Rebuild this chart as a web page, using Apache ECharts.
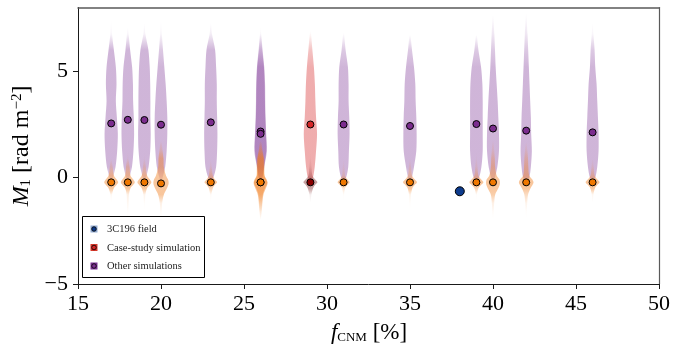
<!DOCTYPE html>
<html>
<head>
<meta charset="utf-8">
<script src="https://cdn.jsdelivr.net/npm/echarts@6/dist/echarts.min.js"></script>
<style>
  html, body { margin: 0; padding: 0; background: #fff; }
  #chart { width: 673px; height: 345px; }
</style>
</head>
<body>
<div id="chart"></div>
<script>
// Simulations: cold-gas fraction f_CNM (%) and median M1 of the two components
const otherX      = [17, 18, 19, 20, 23, 26, 26, 31, 35, 39, 40, 42, 46];
const otherHighM1 = [2.55, 2.72, 2.71, 2.49, 2.60, 2.17, 2.06, 2.50, 2.43, 2.52, 2.31, 2.21, 2.13];
const otherLowM1  = [-0.22, -0.22, -0.22, -0.27, -0.22, -0.22, -0.22, -0.22, -0.22, -0.22, -0.22, -0.22, -0.22];
const caseX      = [29];
const caseHighM1 = [2.50];
const caseLowM1  = [-0.22];
const fieldX  = [38];
const fieldM1 = [-0.64];

// Violin half-widths (in f_CNM units) sampled at fixed M1 levels
const highLevels = [-0.2, 0.0, 0.5, 1.25, 2.05, 2.85, 3.6, 4.4, 5.2, 6.0, 6.75];
const otherHighTop = [7.45, 7.1, 7.3, 7.4, 7.3, 7.1, 6.9, 6.85, 6.7, 6.7, 7.7, 7.75, 7.3];
const otherHighWidth = [
  [0, 0.10, 0.26, 0.36, 0.40, 0.34, 0.28, 0.32, 0.28, 0.16, 0.05],
  [0, 0.10, 0.25, 0.34, 0.38, 0.36, 0.32, 0.31, 0.26, 0.14, 0.05],
  [0, 0.10, 0.25, 0.35, 0.38, 0.36, 0.36, 0.35, 0.32, 0.24, 0.06],
  [0, 0.10, 0.25, 0.34, 0.38, 0.38, 0.34, 0.28, 0.20, 0.12, 0.05],
  [0, 0.15, 0.32, 0.38, 0.40, 0.38, 0.36, 0.36, 0.32, 0.26, 0.07],
  [0, 0.12, 0.22, 0.38, 0.34, 0.30, 0.28, 0.27, 0.22, 0.12, 0.04],
  [0, 0.10, 0.20, 0.34, 0.32, 0.28, 0.26, 0.24, 0.20, 0.10, 0.03],
  [0, 0.15, 0.28, 0.32, 0.36, 0.34, 0.30, 0.30, 0.26, 0.12, 0.03],
  [0, 0.12, 0.24, 0.38, 0.40, 0.38, 0.34, 0.32, 0.24, 0.12, 0.02],
  [0, 0.16, 0.30, 0.38, 0.38, 0.38, 0.38, 0.36, 0.28, 0.12, 0.02],
  [0, 0.12, 0.26, 0.36, 0.36, 0.32, 0.28, 0.22, 0.16, 0.12, 0.08],
  [0, 0.18, 0.28, 0.34, 0.30, 0.28, 0.24, 0.20, 0.16, 0.12, 0.08],
  [0, 0.16, 0.28, 0.36, 0.36, 0.32, 0.28, 0.24, 0.16, 0.12, 0.05]
];
const caseHighTop = [6.9];
const caseHighWidth = [
  [0, 0.15, 0.26, 0.34, 0.40, 0.34, 0.30, 0.27, 0.21, 0.12, 0.04]
];

const lowLevels = [-2.0, -1.6, -1.2, -0.8, -0.5, -0.35, -0.22, -0.08, 0.1, 0.5, 0.9, 1.3, 1.7];
const otherLowWidth = [
  [0, 0,    0,    0.05, 0.16, 0.32, 0.42, 0.32, 0.16, 0.09, 0,    0,    0],
  [0, 0.03, 0.05, 0.07, 0.16, 0.32, 0.42, 0.32, 0.16, 0.11, 0.04, 0,    0],
  [0, 0,    0.03, 0.06, 0.16, 0.32, 0.42, 0.32, 0.16, 0.09, 0.03, 0,    0],
  [0, 0.04, 0.07, 0.17, 0.36, 0.44, 0.46, 0.42, 0.30, 0.17, 0.15, 0.09, 0.03],
  [0, 0,    0,    0.04, 0.12, 0.24, 0.38, 0.24, 0.12, 0.06, 0,    0,    0],
  [0, 0.07, 0.11, 0.17, 0.32, 0.40, 0.42, 0.36, 0.24, 0.23, 0.21, 0.11, 0.04],
  [0, 0.05, 0.09, 0.13, 0.26, 0.36, 0.40, 0.32, 0.22, 0.19, 0.17, 0.09, 0.03],
  [0, 0,    0,    0.03, 0.09, 0.22, 0.36, 0.22, 0.09, 0.05, 0,    0,    0],
  [0, 0,    0.03, 0.06, 0.14, 0.28, 0.42, 0.28, 0.12, 0.07, 0,    0,    0],
  [0, 0,    0,    0.03, 0.12, 0.28, 0.42, 0.28, 0.12, 0.07, 0.03, 0,    0],
  [0, 0.04, 0.07, 0.13, 0.32, 0.40, 0.42, 0.38, 0.22, 0.13, 0.11, 0.07, 0.03],
  [0, 0.03, 0.06, 0.11, 0.26, 0.38, 0.44, 0.36, 0.18, 0.13, 0.11, 0.07, 0],
  [0, 0,    0,    0.05, 0.14, 0.28, 0.42, 0.28, 0.12, 0.07, 0,    0,    0]
];
const caseLowWidth = [
  [0, 0, 0, 0.06, 0.16, 0.28, 0.42, 0.28, 0.12, 0.07, 0.03, 0, 0]
];

const yTickValues = [-5, 0, 5];
const legendLabels = ['3C196 field', 'Case-study simulation', 'Other simulations'];

// Builds a renderItem that draws one violin per data item as a smoothed polygon,
// fading out where the violin gets thin.
function violinRenderer(levels, widths, tops, rgb, alpha) {
  return function (params, api) {
    const i = params.dataIndex;
    const x = api.value(0);
    const lv = levels.slice();
    const ws = widths[i].slice();
    if (tops) { lv.push(tops[i]); ws.push(0); }
    // trim zero-width ends so the outline starts/ends at a single tip
    let a = 0, b = lv.length - 1;
    while (a < b - 1 && ws[a + 1] === 0) a++;
    while (b > a + 1 && ws[b - 1] === 0) b--;
    const right = [], left = [];
    for (let k = a; k <= b; k++) {
      const w = ws[k];
      right.push(api.coord([x + w, lv[k]]));
      if (w > 0) left.push(api.coord([x - w, lv[k]]));
    }
    const pts = right.concat(left.reverse());
    const yTop = api.coord([x, lv[b]])[1];
    const yBot = api.coord([x, lv[a]])[1];
    const stops = [];
    for (let k = b; k >= a; k--) {
      const py = api.coord([x, lv[k]])[1];
      const f = Math.pow(Math.min(1, ws[k] / 0.14), 2);
      stops.push({
        offset: Math.max(0, Math.min(1, (py - yTop) / (yBot - yTop))),
        color: 'rgba(' + rgb + ',' + (alpha * f).toFixed(3) + ')'
      });
    }
    return {
      type: 'polygon',
      shape: { points: pts, smooth: 0.3 },
      style: { fill: new echarts.graphic.LinearGradient(0, yTop, 0, yBot, stops, true) },
      silent: true
    };
  };
}

function pairs(xs, ys) { return xs.map(function (x, i) { return [x, ys[i]]; }); }

const serif = '"Liberation Serif", "DejaVu Serif", serif';
const spine = '#1a1a1a';
const spineFar = '#5a5a5a';

const chart = echarts.init(document.getElementById('chart'), null, { renderer: 'canvas' });

// Legend box and axis titles
const legendRows = [
  { cy: 229,   box: '#95add3', dot: '#0d3b8c' },
  { cy: 247.5, box: '#d8392b', dot: '#d62728' },
  { cy: 266,   box: '#7b3294', dot: '#7b2d8e' }
];
const overlay = [{
  type: 'rect', z: 100,
  shape: { x: 82.5, y: 216.5, width: 122, height: 61 },
  style: { fill: '#fff', stroke: '#000', lineWidth: 1 }
}];
legendRows.forEach(function (r, i) {
  overlay.push({
    type: 'rect', z: 101,
    shape: { x: 90.5, y: r.cy - 3.5, width: 7, height: 7 },
    style: { fill: r.box }
  });
  overlay.push({
    type: 'circle', z: 102,
    shape: { cx: 94, cy: r.cy, r: 2.3 },
    style: { fill: r.dot, stroke: '#000', lineWidth: 0.8 }
  });
  overlay.push({
    type: 'text', z: 102,
    x: 107, y: r.cy + 0.5,
    style: { text: legendLabels[i], font: '10.5px ' + serif, fill: '#222', verticalAlign: 'middle' }
  });
});
overlay.push({
  type: 'text', z: 50, x: 369, y: 333,
  style: {
    text: '{i|f}{sub|CNM}{n| [%]}',
    align: 'center', verticalAlign: 'middle',
    rich: {
      i: { font: 'italic 23px ' + serif, fill: '#000' },
      sub: { font: '13px ' + serif, fill: '#000', padding: [9, 0, 0, 0] },
      n: { font: '23px ' + serif, fill: '#000' }
    }
  }
});
overlay.push({
  type: 'text', z: 50, x: 22, y: 146, rotation: Math.PI / 2,
  style: {
    text: '{i|M}{sub|1}{n| [rad m}{sup|−2}{n|]}',
    align: 'center', verticalAlign: 'middle',
    rich: {
      i: { font: 'italic 24px ' + serif, fill: '#000' },
      sub: { font: '15px ' + serif, fill: '#000', padding: [9, 0, 0, 0] },
      sup: { font: '15px ' + serif, fill: '#000', padding: [0, 0, 9, 0] },
      n: { font: '24px ' + serif, fill: '#000' }
    }
  }
});

chart.setOption({
  animation: false,
  backgroundColor: '#fff',
  grid: { left: 78, right: 12.5, top: 7.5, bottom: 61, show: false },
  xAxis: [{
    type: 'value', min: 15, max: 50, interval: 5,
    axisLine: { onZero: false, lineStyle: { color: spine, width: 1 } },
    axisTick: { inside: false, length: 5, lineStyle: { color: spine } },
    axisLabel: { fontFamily: serif, fontSize: 22, color: '#000', margin: 9 },
    splitLine: { show: false }
  }, {
    // top spine
    type: 'value', min: 15, max: 50, position: 'top',
    axisLine: { show: true, onZero: false, lineStyle: { color: spineFar, width: 1.5 } },
    axisTick: { show: false }, axisLabel: { show: false }, splitLine: { show: false }
  }],
  yAxis: [{
    type: 'value', min: -5, max: 8, interval: 5,
    axisLine: { show: true, onZero: false, lineStyle: { color: spine, width: 1 } },
    axisTick: { show: true, length: 5, customValues: yTickValues, lineStyle: { color: spine } },
    axisLabel: {
      fontFamily: serif, fontSize: 22, color: '#000', margin: 10,
      customValues: yTickValues,
      formatter: function (v) { return String(v).replace('-', '\u2212'); }
    },
    splitLine: { show: false }
  }, {
    // right spine
    type: 'value', min: -5, max: 8, position: 'right',
    axisLine: { show: true, onZero: false, lineStyle: { color: spineFar, width: 1.2 } },
    axisTick: { show: false }, axisLabel: { show: false }, splitLine: { show: false }
  }],
  graphic: overlay,
  series: [
    {
      type: 'custom', name: 'other-high', z: 2,
      data: pairs(otherX, otherHighM1),
      encode: { x: 0, y: 1 },
      renderItem: violinRenderer(highLevels, otherHighWidth, otherHighTop, '123,50,148', 0.36)
    },
    {
      type: 'custom', name: 'case-high', z: 2,
      data: pairs(caseX, caseHighM1),
      encode: { x: 0, y: 1 },
      renderItem: violinRenderer(highLevels, caseHighWidth, caseHighTop, '214,39,40', 0.38)
    },
    {
      type: 'custom', name: 'other-low', z: 3,
      data: pairs(otherX, otherLowM1),
      encode: { x: 0, y: 1 },
      renderItem: violinRenderer(lowLevels, otherLowWidth, null, '240,120,20', 0.42)
    },
    {
      type: 'custom', name: 'case-low', z: 3,
      data: pairs(caseX, caseLowM1),
      encode: { x: 0, y: 1 },
      renderItem: violinRenderer(lowLevels, caseLowWidth, null, '110,10,10', 0.38)
    },
    {
      type: 'scatter', z: 5, symbolSize: 7,
      data: pairs(otherX, otherHighM1),
      itemStyle: { color: '#7b2d8e', borderColor: '#000', borderWidth: 1, opacity: 1 }
    },
    {
      type: 'scatter', z: 5, symbolSize: 7,
      data: pairs(otherX, otherLowM1),
      itemStyle: { color: '#f07800', borderColor: '#000', borderWidth: 1, opacity: 1 }
    },
    {
      type: 'scatter', z: 5, symbolSize: 7,
      data: pairs(caseX, caseHighM1),
      itemStyle: { color: '#d62728', borderColor: '#000', borderWidth: 1, opacity: 1 }
    },
    {
      type: 'scatter', z: 5, symbolSize: 7,
      data: pairs(caseX, caseLowM1),
      itemStyle: { color: '#8b0000', borderColor: '#000', borderWidth: 1, opacity: 1 }
    },
    {
      type: 'scatter', z: 5, symbolSize: 9,
      data: pairs(fieldX, fieldM1),
      itemStyle: { color: '#0d3b8c', borderColor: '#000', borderWidth: 1, opacity: 1 }
    }
  ]
});
</script>
</body>
</html>
